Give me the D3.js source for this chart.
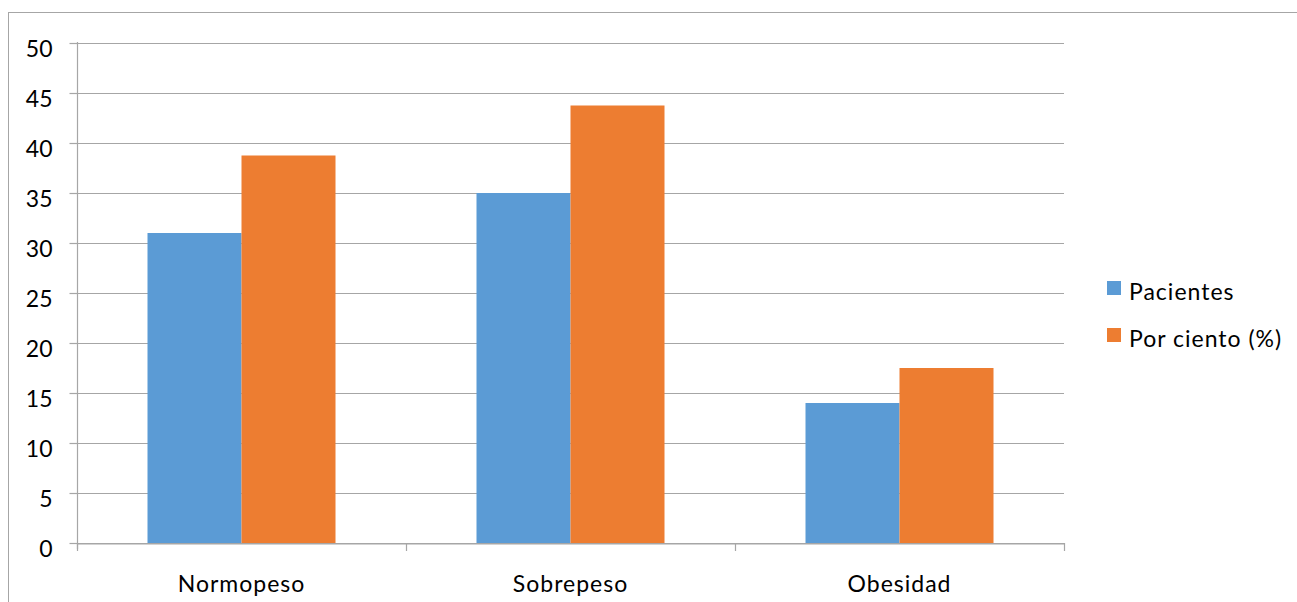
<!DOCTYPE html>
<html>
<head>
<meta charset="utf-8">
<script src="https://cdn.jsdelivr.net/npm/d3@7"></script>
<style>
  html, body { margin: 0; padding: 0; background: #fff; }
  svg { display: block; }
  text { font-family: Lato, "Open Sans", sans-serif; fill: #000; }
</style>
</head>
<body>
<svg id="chart" width="1297" height="602"></svg>
<script>
// Categories and series
const categories = ["Normopeso", "Sobrepeso", "Obesidad"];
const seriesNames = ["Pacientes", "Por ciento (%)"];
const pacientes = [31, 35, 14];
const porCiento = [38.75, 43.75, 17.5];
const yTicks = [0, 5, 10, 15, 20, 25, 30, 35, 40, 45, 50];
const colors = ["#5B9BD5", "#ED7D31"];

const seriesValues = [pacientes, porCiento];
const svg = d3.select("#chart");
const fontSize = "23px";

// Outer chart frame
svg.append("rect")
  .attr("x", 8.5).attr("y", 12.5)
  .attr("width", 1400).attr("height", 700)
  .attr("fill", "none").attr("stroke", "#a6a6a6").attr("stroke-width", 1);

const plot = { left: 77, right: 1064, top: 43, bottom: 543 };

const x = d3.scaleBand().domain(categories).range([plot.left, plot.right]).paddingInner(0).paddingOuter(0);
const y = d3.scaleLinear().domain([0, 50]).range([plot.bottom, plot.top]);

// Gridlines
svg.append("g").selectAll("line").data(yTicks).join("line")
  .attr("x1", plot.left).attr("x2", plot.right)
  .attr("y1", d => Math.round(y(d)) + 0.5).attr("y2", d => Math.round(y(d)) + 0.5)
  .attr("stroke", "#a6a6a6").attr("stroke-width", 1.2);

// Bars
const groupInset = 70.5;
const inner = d3.scaleBand().domain(seriesNames)
  .range([groupInset, x.bandwidth() - groupInset]).padding(0);

categories.forEach((c, i) => {
  seriesNames.forEach((s, j) => {
    svg.append("rect")
      .attr("x", x(c) + inner(s))
      .attr("y", y(seriesValues[j][i]))
      .attr("width", inner.bandwidth())
      .attr("height", y(0) - y(seriesValues[j][i]))
      .attr("fill", colors[j]);
  });
});

// Y axis
const yAxis = svg.append("g")
  .attr("transform", `translate(${plot.left + 0.5},0)`)
  .call(d3.axisLeft(y).tickValues(yTicks).tickSize(8).tickPadding(17).tickSizeOuter(0));
yAxis.select(".domain").attr("stroke", "#a6a6a6").attr("stroke-width", 1.2)
  .attr("d", `M0,${plot.top - 1}V${plot.bottom + 6}`);
yAxis.selectAll(".tick line").attr("stroke", "#a6a6a6").attr("stroke-width", 1.2);
yAxis.selectAll(".tick text")
  .style("font-size", fontSize).style("font-family", "Lato, sans-serif")
  .attr("dy", "0.6em").attr("fill", "#000");

// X axis
const xAxis = svg.append("g")
  .attr("transform", `translate(0,${plot.bottom + 0.5})`)
  .call(d3.axisBottom(x).tickSize(0).tickPadding(32).tickSizeOuter(0));
xAxis.select(".domain").attr("stroke", "#a6a6a6").attr("stroke-width", 1.2);
xAxis.selectAll(".tick text")
  .style("font-size", fontSize).style("font-family", "Lato, sans-serif")
  .style("letter-spacing", "1px").attr("fill", "#000");

// Category boundary ticks
const boundaries = [plot.left, ...categories.map(c => x(c) + x.bandwidth())];
svg.append("g").selectAll("line").data(boundaries).join("line")
  .attr("x1", d => d + 0.5).attr("x2", d => d + 0.5)
  .attr("y1", plot.bottom).attr("y2", plot.bottom + 8)
  .attr("stroke", "#a6a6a6").attr("stroke-width", 1.2);

// Legend
const legend = svg.append("g").attr("transform", "translate(1107,281)");
seriesNames.forEach((s, j) => {
  const g = legend.append("g").attr("transform", `translate(0,${j * 47})`);
  g.append("rect").attr("width", 14).attr("height", 14).attr("fill", colors[j]);
  g.append("text").attr("x", 22).attr("y", 19)
    .style("font-size", fontSize).style("letter-spacing", "1px").text(s);
});
</script>
</body>
</html>
